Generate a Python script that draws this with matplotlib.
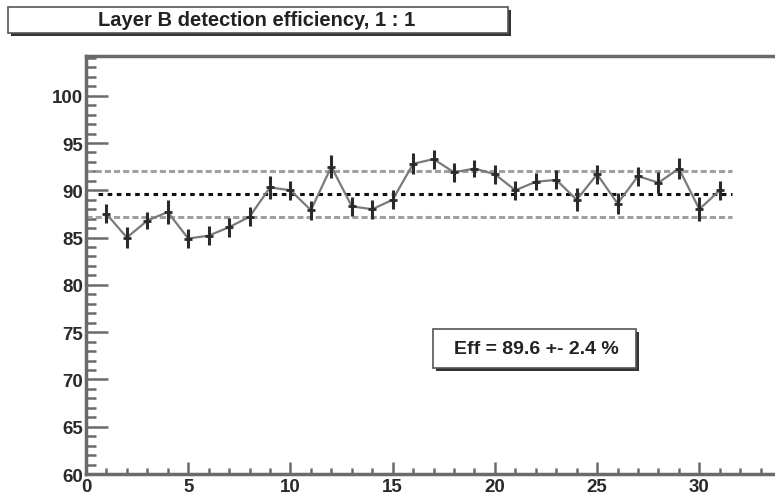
import numpy as np
import matplotlib
matplotlib.use("Agg")
from matplotlib import pyplot as plt
from matplotlib.patches import Rectangle
from matplotlib.ticker import MultipleLocator

# per-module efficiency (%) and its error
module = list(range(1, 32))
eff = [87.5, 85.0, 86.8, 87.7, 84.9, 85.2, 86.1, 87.2, 90.3, 90.0,
       87.9, 92.5, 88.3, 88.0, 89.0, 92.8, 93.3, 91.9, 92.3, 91.7,
       90.0, 90.9, 91.1, 89.0, 91.7, 88.6, 91.5, 90.8, 92.3, 88.0, 90.0]
err = [1.0, 1.1, 0.9, 1.3, 1.0, 1.0, 1.0, 1.0, 1.2, 1.0,
       1.0, 1.2, 1.0, 1.0, 1.0, 1.1, 1.0, 1.0, 0.9, 1.0,
       1.0, 0.9, 1.0, 1.2, 1.0, 1.1, 1.0, 1.1, 1.1, 1.3, 1.0]
mean_eff = 89.6
rms_eff = 2.4
title = "Layer B detection efficiency, 1 : 1"

W, H = 775, 502
fig = plt.figure(figsize=(W/100, H/100), dpi=100)
fig.patch.set_facecolor("white")
plt.rcParams['font.family'] = ['Liberation Sans', 'DejaVu Sans']

ax = fig.add_axes([86/W, (H-475)/H, (W-86)/W, (475-57)/H])
ax.set_xlim(0, 33.7)
ax.set_ylim(60, 104.2)

axcol = "#6a6a6a"
for s in ["left", "bottom", "top"]:
    ax.spines[s].set_color(axcol)
    ax.spines[s].set_linewidth(2.5)
ax.spines["right"].set_visible(False)

ax.xaxis.set_major_locator(MultipleLocator(5))
ax.xaxis.set_minor_locator(MultipleLocator(1))
ax.yaxis.set_major_locator(MultipleLocator(5))
ax.yaxis.set_minor_locator(MultipleLocator(1))
ax.tick_params(axis="y", which="major", direction="in", length=16, width=1.8,
               color=axcol, labelsize=13.5, pad=2)
ax.tick_params(axis="y", which="minor", direction="in", length=7, width=1.8, color=axcol)
ax.tick_params(axis="x", which="major", direction="in", length=9, width=1.8,
               color=axcol, labelsize=13.5, pad=3)
ax.tick_params(axis="x", which="minor", direction="in", length=4, width=1.8, color=axcol)
ax.tick_params(top=False, right=False, which="both")
ax.set_yticks([v for v in range(60, 101, 5)])
for lab in ax.get_xticklabels() + ax.get_yticklabels():
    lab.set_fontweight("bold")
    lab.set_color("#2a2a2a")

# mean and +- rms bands
x0, x1 = 0, 31.6
ax.plot([x0, x1], [mean_eff + rms_eff]*2, color="#a0a0a0", lw=2.2, ls=(0, (2, 1)))
ax.plot([x0, x1], [mean_eff - rms_eff]*2, color="#a0a0a0", lw=2.2, ls=(0, (2, 1)))
ax.plot([0.6, x1], [mean_eff]*2, color="#111111", lw=2.2, ls=(0, (1.5, 1.5)))

ax.plot(module, eff, color="#7a7a7a", lw=1.6, zorder=3)
ax.errorbar(module, eff, yerr=err, fmt="_", color="#2a2a2a", ms=6, mew=2,
            elinewidth=2.2, capsize=0, zorder=4)

# title box with shadow
def shadow_box(x, y, w, h, off=3):
    fig.patches.append(Rectangle(((x+off)/W, (H-y-h-off)/H), w/W, h/H,
                                 transform=fig.transFigure, facecolor="#333333",
                                 edgecolor="none", zorder=5))
    fig.patches.append(Rectangle((x/W, (H-y-h)/H), w/W, h/H,
                                 transform=fig.transFigure, facecolor="white",
                                 edgecolor="#555555", lw=1.2, zorder=6))

shadow_box(8, 8, 500, 26)
fig.text(257/W, 1-21/H, title, ha="center", va="center", fontsize=14.5,
         fontweight="bold", color="#222222", zorder=7)

shadow_box(433, 330, 203, 39)
fig.text(536/W, 1-350/H, "Eff = %.1f +- %.1f %%" % (mean_eff, rms_eff),
         ha="center", va="center", fontsize=14, fontweight="bold",
         color="#222222", zorder=7)

fig.savefig("out.png", dpi=100)
